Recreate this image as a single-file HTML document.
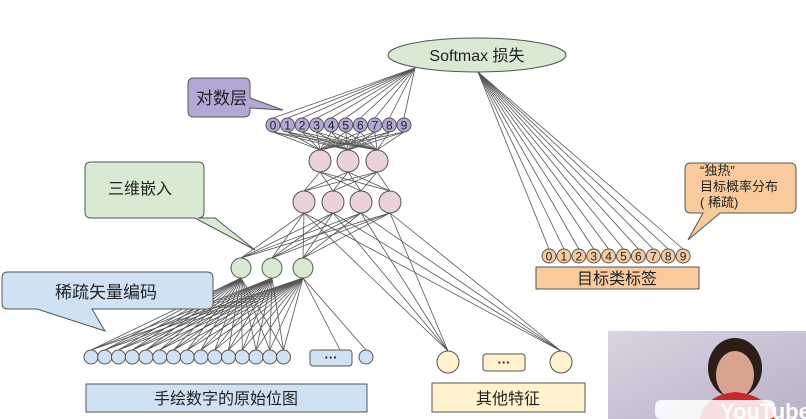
<!DOCTYPE html>
<html><head><meta charset="utf-8"><style>
html,body{margin:0;padding:0;background:#fff;width:806px;height:419px;overflow:hidden}
svg{display:block}
text{font-family:"Liberation Sans","Noto Sans CJK SC",sans-serif;fill:#222}
</style></head><body>
<svg id="s" width="806" height="419" viewBox="0 0 806 419" xmlns="http://www.w3.org/2000/svg">
<defs>
<linearGradient id="bg" x1="0" y1="0" x2="1" y2="1"><stop offset="0" stop-color="#d9d3e2"/><stop offset="1" stop-color="#b9b2c8"/></linearGradient>
</defs>
<g id="lines" stroke="#555" stroke-width="0.8" fill="none"></g>
<rect x="608" y="331" width="198" height="88" fill="url(#bg)"/>
<ellipse cx="735" cy="368" rx="27" ry="30" fill="#2b1d18"/>
<ellipse cx="735" cy="375" rx="19" ry="24" fill="#d9a48f"/>
<path d="M700 419 Q705 395 735 392 Q768 395 775 419Z" fill="#c8272b"/>
<rect x="655" y="400" width="120" height="19" rx="6" fill="#fff" opacity="0.85"/>
<text x="720" y="419" font-size="22" font-weight="bold" style="fill:#fff">YouTube</text>
<path d="M194 78 H244 Q250 78 250 84 V98 L283 110 L250 108 V111 Q250 117 244 117 H194 Q188 117 188 111 V84 Q188 78 194 78Z" fill="#b4a7d6" stroke="#555"/>
<text x="196" y="104" font-size="17">对数层</text>
<path d="M91 162 H198 Q204 162 204 168 V212 Q204 218 198 218 H215 L255 250 L195 218 H91 Q85 218 85 212 V168 Q85 162 91 162Z" fill="#d9ead3" stroke="#555"/>
<text x="108" y="194" font-size="16">三维嵌入</text>
<path d="M8 272 H207 Q213 272 213 278 V303 Q213 309 207 309 H92 L105 331 L37 309 H8 Q2 309 2 303 V278 Q2 272 8 272Z" fill="#cfe2f3" stroke="#555"/>
<text x="55" y="298" font-size="17">稀疏矢量编码</text>
<path d="M691 163 H790 Q796 163 796 169 V207 Q796 213 790 213 H720 L688 240 L703 213 H691 Q685 213 685 207 V169 Q685 163 691 163Z" fill="#f9cb9c" stroke="#555"/>
<text x="700" y="175" font-size="13">“独热”</text>
<text x="700" y="191" font-size="13">目标概率分布</text>
<text x="700" y="207" font-size="13">( 稀疏)</text>
<ellipse cx="477" cy="55" rx="89" ry="17" fill="#d9ead3" stroke="#555"/>
<text x="477" y="61" font-size="16" text-anchor="middle">Softmax 损失</text>
<rect x="86" y="384" width="281" height="28" fill="#cfe2f3" stroke="#555"/>
<text x="226" y="404" font-size="16" text-anchor="middle">手绘数字的原始位图</text>
<rect x="432" y="383" width="153" height="29" fill="#fff2cc" stroke="#555"/>
<text x="508" y="404" font-size="16" text-anchor="middle">其他特征</text>
<rect x="536" y="267" width="163" height="22" fill="#f9cb9c" stroke="#555"/>
<text x="617" y="284" font-size="16" text-anchor="middle">目标类标签</text>
<rect x="310" y="350" width="42" height="16" rx="3" fill="#cfe2f3" stroke="#555"/>
<text x="331" y="362" font-size="13" text-anchor="middle" font-weight="bold">···</text>
<rect x="483" y="354" width="42" height="17" rx="3" fill="#fff2cc" stroke="#555"/>
<text x="504" y="367" font-size="13" text-anchor="middle" font-weight="bold">···</text>
<g id="nodes"></g>
</svg>
<script>
var NS="http://www.w3.org/2000/svg";
var L=document.getElementById("lines"),N=document.getElementById("nodes");
function ln(a,b,c,d){var e=document.createElementNS(NS,"line");e.setAttribute("x1",a);e.setAttribute("y1",b);e.setAttribute("x2",c);e.setAttribute("y2",d);L.appendChild(e);}
function ci(x,y,r,f,t){var e=document.createElementNS(NS,"circle");e.setAttribute("cx",x);e.setAttribute("cy",y);e.setAttribute("r",r);e.setAttribute("fill",f);e.setAttribute("stroke","#555");N.appendChild(e);
if(t!==undefined){var s=document.createElementNS(NS,"text");s.setAttribute("x",x);s.setAttribute("y",y+4.5);s.setAttribute("font-size","12");s.setAttribute("text-anchor","middle");s.textContent=t;N.appendChild(s);}}
var P=[],O=[],K1=[320,348,377],K2=[304,333,361,390],G=[241,272,303],B=[],Y=[448,561];
for(var i=0;i<10;i++){P.push(273+i*14.55);O.push(549+i*14.9);}
for(var i=0;i<15;i++)B.push(91+i*13.75);
P.forEach(function(x){ln(415,68,x,118);});
O.forEach(function(x){ln(478,72,x,249);});
P.forEach(function(x){K1.forEach(function(k){ln(x,132,k,150);});});
K1.forEach(function(a){K2.forEach(function(b){ln(a,172,b,191);});});
K2.forEach(function(a){G.forEach(function(b){ln(a,213,b,258);});});
K2.forEach(function(a){Y.forEach(function(b){ln(a,213,b,351);});});
G.forEach(function(g){B.forEach(function(b){ln(g,278,b,350);});});
ln(303,278,366,350);ln(303,278,340,350);
P.forEach(function(x,i){ci(x,125,7,"#b4a7d6",i);});
O.forEach(function(x,i){ci(x,256,7,"#f9cb9c",i);});
K1.forEach(function(x){ci(x,161,11,"#ead1dc");});
K2.forEach(function(x){ci(x,202,11,"#ead1dc");});
G.forEach(function(x){ci(x,268,10,"#d9ead3");});
B.forEach(function(x){ci(x,357,7,"#cfe2f3");});
ci(366,357,7,"#cfe2f3");
Y.forEach(function(x){ci(x,362,11,"#fff2cc");});
</script>
</body></html>
